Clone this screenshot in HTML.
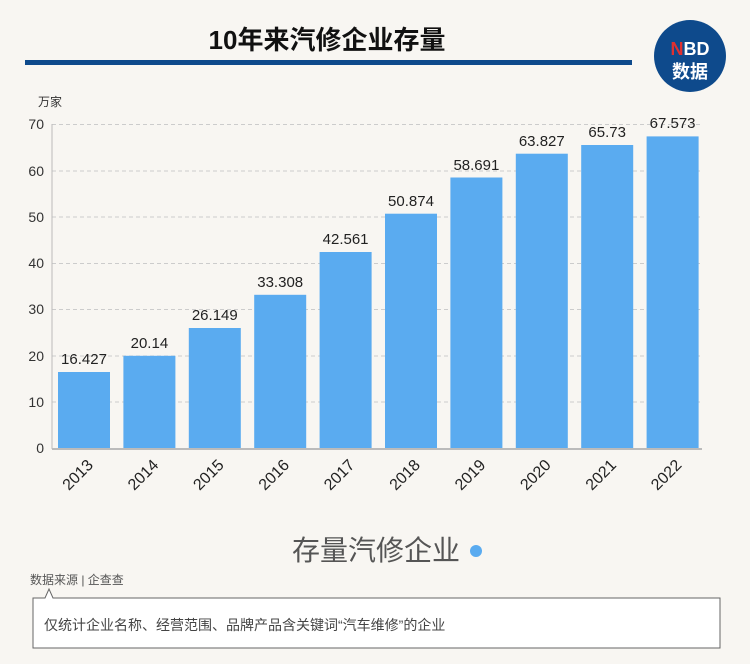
<!DOCTYPE html>
<html><head><meta charset="utf-8"><style>
body{margin:0;background:#f8f6f2;}
svg text{font-family:"Liberation Sans","Noto Sans CJK SC",sans-serif;}
</style></head><body>
<svg width="750" height="659" xmlns="http://www.w3.org/2000/svg">
<rect width="750" height="659" fill="#f8f6f2"/>
<text x="327" y="49" text-anchor="middle" font-size="26" font-weight="bold" fill="#111">10年来汽修企业存量</text>
<rect x="25" y="60" width="607" height="5" fill="#0e4a8c"/>
<circle cx="690" cy="56" r="36" fill="#0e4a8c"/>
<text x="690" y="55" text-anchor="middle" font-size="18" font-weight="bold" fill="#fff"><tspan fill="#e03030">N</tspan>BD</text>
<text x="690" y="78" text-anchor="middle" font-size="18" font-weight="bold" fill="#fff">数据</text>
<text x="38" y="106" font-size="12" fill="#333">万家</text>
<g stroke="#ccc" stroke-dasharray="4,3" stroke-width="1">
<line x1="52" x2="700" y1="124.5" y2="124.5"/><line x1="52" x2="700" y1="171" y2="171"/>
<line x1="52" x2="700" y1="217" y2="217"/><line x1="52" x2="700" y1="263.5" y2="263.5"/>
<line x1="52" x2="700" y1="309.5" y2="309.5"/><line x1="52" x2="700" y1="356" y2="356"/>
<line x1="52" x2="700" y1="402" y2="402"/>
</g>
<line x1="52" x2="52" y1="124" y2="449" stroke="#bbb"/>
<line x1="52" x2="702" y1="449" y2="449" stroke="#bbb" stroke-width="2"/>
<g font-size="14" fill="#333" text-anchor="end">
<text x="44" y="129">70</text><text x="44" y="176">60</text><text x="44" y="222">50</text>
<text x="44" y="268">40</text><text x="44" y="314">30</text><text x="44" y="361">20</text>
<text x="44" y="407">10</text><text x="44" y="453">0</text>
</g>
<g fill="#5aabf0">
<rect x="58" y="372" width="52" height="76"/>
<rect x="123.4" y="355.8" width="52" height="92.2"/>
<rect x="188.8" y="328" width="52" height="120"/>
<rect x="254.2" y="294.8" width="52" height="153.2"/>
<rect x="319.6" y="252" width="52" height="196"/>
<rect x="385" y="213.7" width="52" height="234.3"/>
<rect x="450.4" y="177.5" width="52" height="270.5"/>
<rect x="515.8" y="153.7" width="52" height="294.3"/>
<rect x="581.2" y="145" width="52" height="303"/>
<rect x="646.6" y="136.4" width="52" height="311.6"/>
</g>
<g font-size="15" fill="#222" text-anchor="middle">
<text x="84" y="364">16.427</text><text x="149.4" y="348">20.14</text>
<text x="214.8" y="320">26.149</text><text x="280.2" y="287">33.308</text>
<text x="345.6" y="244">42.561</text><text x="411" y="206">50.874</text>
<text x="476.4" y="170">58.691</text><text x="541.8" y="146">63.827</text>
<text x="607.2" y="137">65.73</text><text x="672.6" y="128">67.573</text>
</g>
<g font-size="16" fill="#222" text-anchor="end">
<text transform="translate(94,466) rotate(-45)">2013</text>
<text transform="translate(159.4,466) rotate(-45)">2014</text>
<text transform="translate(224.8,466) rotate(-45)">2015</text>
<text transform="translate(290.2,466) rotate(-45)">2016</text>
<text transform="translate(355.6,466) rotate(-45)">2017</text>
<text transform="translate(421,466) rotate(-45)">2018</text>
<text transform="translate(486.4,466) rotate(-45)">2019</text>
<text transform="translate(551.8,466) rotate(-45)">2020</text>
<text transform="translate(617.2,466) rotate(-45)">2021</text>
<text transform="translate(682.6,466) rotate(-45)">2022</text>
</g>
<text x="376" y="560" text-anchor="middle" font-size="28" fill="#555">存量汽修企业</text>
<circle cx="476" cy="551" r="6" fill="#5aabf0"/>
<text x="30" y="584" font-size="12" fill="#555">数据来源 | 企查查</text>
<path d="M33,598 L45,598 L49,589 L53,598 L720,598 L720,648 L33,648 Z" fill="#fff" stroke="#666" stroke-width="1"/>
<text x="44" y="630" font-size="14" fill="#444">仅统计企业名称、经营范围、品牌产品含关键词“汽车维修”的企业</text>
</svg>
</body></html>
